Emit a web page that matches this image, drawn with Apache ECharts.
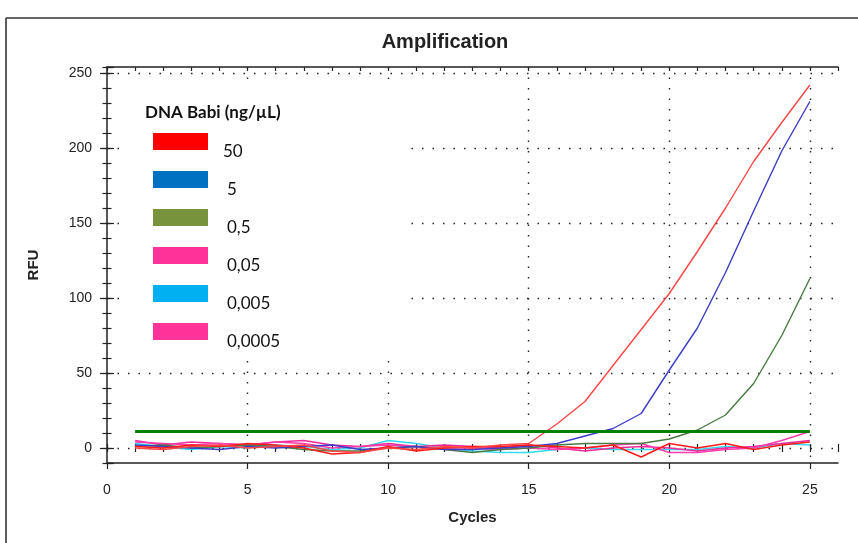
<!DOCTYPE html>
<html>
<head>
<meta charset="utf-8">
<script src="https://cdn.jsdelivr.net/npm/echarts@6/dist/echarts.min.js"></script>
<style>html,body{margin:0;padding:0;background:#fff;}#chart{width:858px;height:543px;}</style>
</head>
<body>
<div id="chart"></div>
<script>
// ---- data ----
const cycles = [1,2,3,4,5,6,7,8,9,10,11,12,13,14,15,16,17,18,19,20,21,22,23,24,25];
const rfu50    = [0,-1,1,2,0,1,2,-2,-3,0,-1,1,0,2,3,16,31,55,79,103,131,160,191,217,242];
const rfu5     = [2,1,0,-1,1,0,1,2,-1,0,1,-1,-1,0,1,3,8,13,23,52,80,117,158,198,231];
const rfu0_5   = [1,2,0,1,2,1,-1,-2,-2,0,1,-1,-3,-1,0,2,3,3,3,6,12,22,43,75,113];
const rfu0_05  = [4,3,2,3,2,4,3,0,1,2,1,0,0,-1,0,-1,0,2,3,-3,-3,-1,0,5,11];
const rfu0_005 = [3,1,-1,1,0,2,1,-1,0,5,3,0,-2,-3,-3,-1,0,-1,-1,-1,-1,1,0,3,2];
const rfu0_0005= [5,2,4,3,2,4,5,2,1,3,1,2,1,0,2,0,-2,0,1,0,-2,0,1,3,5];
const rfuNeg   = [1,0,2,1,3,2,0,-4,-3,1,-2,0,1,1,2,1,0,2,-6,3,0,3,-1,2,4];
const threshold = 11;
const thresholdCycles = [1, 25];
const legendNames = ['50','5','0,5','0,05','0,005','0,0005'];
const legendColors = ['#ff0000','#0070c0','#77933c','#ff3399','#00b0f0','#ff3399'];
const lineColors = ['#ff4545','#3c3cc8','#4a7a44','#ff3cae','#30dcee','#ee2a9a'];
const xTicks = [0,5,10,15,20,25];
const yTicks = [0,50,100,150,200,250];

const X_MIN = 0, X_MAX = 26, Y_MIN = -10, Y_MAX = 254;
const dotted = {color:'#222', width:1.4, type:[1.5,9]};
const axisFont = {fontFamily:'Liberation Sans', fontSize:14, color:'#222'};

function pairs(ys){ return cycles.map((c,i)=>[c, ys[i]]); }

const chart = echarts.init(document.getElementById('chart'), null, {renderer:'canvas'});

const lineSeries = [
  {name:'0,005', data:rfu0_005, color:lineColors[4]},
  {name:'0,0005', data:rfu0_0005, color:lineColors[5]},
  {name:'0,05', data:rfu0_05, color:lineColors[3]},
  {name:'0,5', data:rfu0_5, color:lineColors[2]},
  {name:'5', data:rfu5, color:lineColors[1]},
  {name:'NTC', data:rfuNeg, color:'#ff1a1a'},
  {name:'50', data:rfu50, color:lineColors[0]}
].map(s => ({
  name:s.name, type:'line', data:pairs(s.data), symbol:'none', smooth:false,
  xAxisIndex:0, yAxisIndex:0, z:3,
  color:s.color,
  lineStyle:{color:s.color, width:1.4}, itemStyle:{color:s.color}
}));

lineSeries.push({
  name:'threshold', type:'line', symbol:'none', xAxisIndex:0, yAxisIndex:0, z:4,
  data: thresholdCycles.map(c=>[c, threshold]),
  lineStyle:{color:'#008000', width:3}
});

const majorX = (pos, inside, len, extra) => Object.assign({
  type:'value', min:X_MIN, max:X_MAX, position:pos,
  axisLine:{show:false}, axisLabel:{show:false}, splitLine:{show:false},
  axisTick:{show:true, inside:inside, length:len, lineStyle:{color:'#222', width:1.2}}
}, extra||{});

const legendRich = {fontFamily:'Lato', fontSize:17, color:'#111'};

const option = {
  animation:false,
  backgroundColor:'#fff',
  title:{text:'Amplification', left:440, top:27, textAlign:'center',
    textStyle:{fontFamily:'Liberation Sans', fontWeight:'bold', fontSize:20, color:'#222'}},
  grid:{left:107, right:20, top:67, bottom:80},
  xAxis:[
    {type:'value', min:X_MIN, max:X_MAX, interval:5, position:'bottom',
     name:'Cycles', nameLocation:'middle', nameGap:47,
     nameTextStyle:{fontFamily:'Liberation Sans', fontWeight:'bold', fontSize:15, color:'#222'},
     axisLine:{show:true, onZero:false, lineStyle:{color:'#222', width:1.5}},
     axisTick:{show:true, length:6, lineStyle:{color:'#222', width:1.2}},
     axisLabel:Object.assign({margin:20, showMaxLabel:false,
       formatter:v => xTicks.indexOf(v) >= 0 ? String(v) : ''}, axisFont),
     splitLine:{show:true, showMinLine:false, showMaxLine:false, lineStyle:dotted}},
    majorX('bottom', false, 4, {interval:1}),
    majorX('bottom', true, 4, {interval:1}),
    majorX('top', true, 4, {interval:1, axisLine:{show:true, onZero:false, lineStyle:{color:'#222', width:1.5}}})
  ],
  yAxis:[
    {type:'value', min:Y_MIN, max:Y_MAX, splitNumber:5, position:'left',
     name:'RFU', nameLocation:'middle', nameGap:66,
     nameTextStyle:{fontFamily:'Liberation Sans', fontWeight:'bold', fontSize:15, color:'#222'},
     axisLine:{show:true, onZero:false, lineStyle:{color:'#222', width:1.5}},
     axisTick:{show:true, length:7, lineStyle:{color:'#222', width:1.2}},
     axisLabel:Object.assign({margin:15, showMinLabel:false, showMaxLabel:false,
       formatter:v => yTicks.indexOf(v) >= 0 ? String(v) : ''}, axisFont),
     splitLine:{show:true, showMinLine:false, showMaxLine:false, lineStyle:dotted}},
    {type:'value', min:Y_MIN, max:Y_MAX, splitNumber:5, position:'left',
     axisLine:{show:false}, axisLabel:{show:false}, splitLine:{show:false},
     axisTick:{show:true, inside:true, length:7, lineStyle:{color:'#222', width:1.2}}},
    {type:'value', min:Y_MIN, max:Y_MAX, interval:10, position:'left',
     axisLine:{show:false}, axisLabel:{show:false}, splitLine:{show:false},
     axisTick:{show:true, length:4.5, lineStyle:{color:'#222', width:1.2}}},
    {type:'value', min:Y_MIN, max:Y_MAX, interval:10, position:'left',
     axisLine:{show:false}, axisLabel:{show:false}, splitLine:{show:false},
     axisTick:{show:true, inside:true, length:4.5, lineStyle:{color:'#222', width:1.2}}}
  ],
  legend:{
    show:true, orient:'vertical', left:148, top:128,
    icon:'rect', itemWidth:55, itemHeight:17, itemGap:11,
    selectedMode:false,
    itemStyle:{borderWidth:0},
    formatter: n => (n === '50' ? '{a|' : '{b|') + n + '}',
    textStyle:{fontFamily:'Lato', fontSize:17, color:'#111',
      rich:{
        a:Object.assign({padding:[20,0,0,10]}, legendRich),
        b:Object.assign({padding:[20,0,0,14]}, legendRich)
      }},
    data: legendNames.map((n,i)=>({
      name:n, icon:'rect',
      itemStyle:{color:legendColors[i], borderWidth:0}
    }))
  },
  graphic:[
    {type:'rect', z:1, shape:{x:120, y:85, width:290, height:270}, style:{fill:'#fff'}},
    {type:'text', z:5, left:145, top:104,
     style:{text:'DNA Babi (ng/µL)', font:'bold 17px Lato', fill:'#111'}},
    {type:'line', z:5, shape:{x1:6, y1:18, x2:6, y2:543}, style:{stroke:'#333', lineWidth:1.6}},
    {type:'line', z:5, shape:{x1:6, y1:18, x2:858, y2:18}, style:{stroke:'#333', lineWidth:1.6}}
  ],
  series: lineSeries
};
chart.setOption(option);
</script>
</body>
</html>
